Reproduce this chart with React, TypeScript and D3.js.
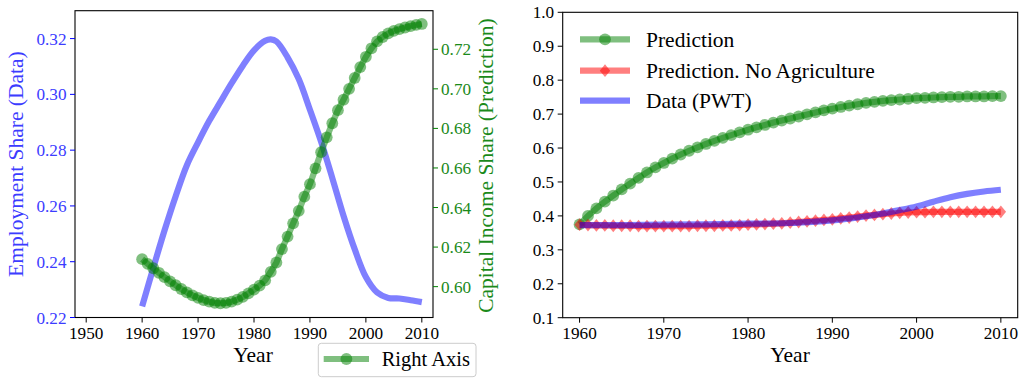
import React from 'react';
import * as d3 from 'd3';

// ---------- DATA ----------
const YEARS = [
  1960, 1961, 1962, 1963, 1964, 1965, 1966, 1967, 1968, 1969,
  1970, 1971, 1972, 1973, 1974, 1975, 1976, 1977, 1978, 1979,
  1980, 1981, 1982, 1983, 1984, 1985, 1986, 1987, 1988, 1989,
  1990, 1991, 1992, 1993, 1994, 1995, 1996, 1997, 1998, 1999,
  2000, 2001, 2002, 2003, 2004, 2005, 2006, 2007, 2008, 2009, 2010,
];

// Left panel, right axis: capital income share (prediction)
const CAPITAL_SHARE_PRED = [
  0.6139, 0.6115, 0.6093, 0.6070, 0.6048, 0.6027, 0.6007, 0.5988, 0.5971, 0.5956,
  0.5943, 0.5932, 0.5924, 0.5918, 0.5916, 0.5918, 0.5924, 0.5934, 0.5948, 0.5966,
  0.5985, 0.6005, 0.6032, 0.6075, 0.6122, 0.6190, 0.6253, 0.6320, 0.6383, 0.6455,
  0.6518, 0.6598, 0.6680, 0.6755, 0.6826, 0.6892, 0.6945, 0.7000, 0.7055, 0.7110,
  0.7162, 0.7205, 0.7240, 0.7262, 0.7280, 0.7293, 0.7302, 0.7310, 0.7317, 0.7323, 0.7328,
];

// Left panel, left axis: employment share (data)
const EMP_YEARS = [
  1960, 1962, 1964, 1966, 1968, 1970, 1972, 1974, 1976, 1978, 1980, 1982, 1983,
  1984, 1986, 1988, 1990, 1992, 1994, 1996, 1998, 2000, 2002, 2004, 2006, 2008, 2010,
];
const EMP_SHARE = [
  0.2240, 0.2378, 0.2512, 0.2635, 0.2746, 0.2828, 0.2905, 0.2973, 0.3040, 0.3103, 0.3158, 0.3192, 0.3197,
  0.3190, 0.3133, 0.3055, 0.2945, 0.2830, 0.2700, 0.2565, 0.2445, 0.2345, 0.2290, 0.2270, 0.2268, 0.2262, 0.2255,
];

// Right panel
const PREDICTION = [
  0.375, 0.400, 0.422, 0.442, 0.460, 0.478, 0.495, 0.512, 0.528, 0.543,
  0.556, 0.569, 0.581, 0.592, 0.602, 0.612, 0.621, 0.630, 0.638, 0.646,
  0.654, 0.661, 0.668, 0.675, 0.681, 0.687, 0.693, 0.699, 0.705, 0.711,
  0.716, 0.721, 0.725, 0.729, 0.733, 0.736, 0.739, 0.741, 0.743, 0.745,
  0.747, 0.748, 0.749, 0.750, 0.751, 0.751, 0.752, 0.752, 0.752, 0.753, 0.753,
];
const PREDICTION_NO_AG = [
  0.374, 0.373, 0.372, 0.372, 0.371, 0.371, 0.371, 0.370, 0.370, 0.370,
  0.370, 0.370, 0.370, 0.370, 0.371, 0.371, 0.371, 0.372, 0.372, 0.373,
  0.374, 0.375, 0.376, 0.377, 0.378, 0.380, 0.382, 0.384, 0.386, 0.388,
  0.390, 0.393, 0.395, 0.398, 0.401, 0.403, 0.405, 0.407, 0.409, 0.410,
  0.411, 0.411, 0.412, 0.412, 0.412, 0.412, 0.412, 0.412, 0.412, 0.412, 0.412,
];
const PWT_YEARS = [1960, 1965, 1970, 1975, 1980, 1985, 1988, 1990, 1992, 1994, 1996, 1998, 2000, 2002, 2004, 2006, 2008, 2010];
const PWT_DATA = [0.373, 0.373, 0.374, 0.375, 0.377, 0.379, 0.383, 0.387, 0.392, 0.399, 0.407, 0.417, 0.428, 0.442, 0.455, 0.465, 0.472, 0.477];

const LEFT_X_TICKS = [1950, 1960, 1970, 1980, 1990, 2000, 2010];
const LEFT_Y_TICKS = [0.22, 0.24, 0.26, 0.28, 0.30, 0.32];
const LEFT_Y2_TICKS = [0.60, 0.62, 0.64, 0.66, 0.68, 0.70, 0.72];
const RIGHT_X_TICKS = [1960, 1970, 1980, 1990, 2000, 2010];
const RIGHT_Y_TICKS = [0.1, 0.2, 0.3, 0.4, 0.5, 0.6, 0.7, 0.8, 0.9, 1.0];

// ---------- STYLE ----------
const FONT = '"Liberation Serif", "Times New Roman", serif';
const GREEN = '#008000';
const RED = '#ff0000';
const BLUE = '#0000ff';
const BLUE_TEXT = '#3c3cff';
const GREEN_TEXT = '#1a8a1a';
const TICK_FS = 17.2;
const LABEL_FS = 21.5;
const LEG_FS = 21.5;

const L = { x0: 75, x1: 433, y0: 10.7, y1: 317.5 };
const R = { x0: 562.7, x1: 1017.7, y0: 12.3, y1: 317.7 };

const diamond = (cx: number, cy: number) =>
  `M${cx},${cy - 6.4}L${cx + 5.2},${cy}L${cx},${cy + 6.4}L${cx - 5.2},${cy}Z`;

export default function App() {
  // left panel scales
  const lx = d3.scaleLinear().domain([1948, 2012]).range([L.x0, L.x1]);
  const ly = d3.scaleLinear().domain([0.22, 0.33]).range([L.y1, L.y0]);
  const ly2 = d3.scaleLinear().domain([0.5844, 0.7395]).range([L.y1, L.y0]);
  // right panel scales
  const rx = d3.scaleLinear().domain([1958, 2012]).range([R.x0, R.x1]);
  const ry = d3.scaleLinear().domain([0.1, 1.0]).range([R.y1, R.y0]);

  const empLine = d3
    .line<number>()
    .x((_, i) => lx(EMP_YEARS[i]))
    .y((d) => ly(d))
    .curve(d3.curveCatmullRom.alpha(0.5))(EMP_SHARE) as string;
  const capLine = d3
    .line<number>()
    .x((_, i) => lx(YEARS[i]))
    .y((d) => ly2(d))(CAPITAL_SHARE_PRED) as string;

  const predLine = d3
    .line<number>()
    .x((_, i) => rx(YEARS[i]))
    .y((d) => ry(d))(PREDICTION) as string;
  const noAgLine = d3
    .line<number>()
    .x((_, i) => rx(YEARS[i]))
    .y((d) => ry(d))(PREDICTION_NO_AG) as string;
  const pwtLine = d3
    .line<number>()
    .x((_, i) => rx(PWT_YEARS[i]))
    .y((d) => ry(d))
    .curve(d3.curveMonotoneX)(PWT_DATA) as string;

  const f2 = d3.format('.2f');
  const f1 = d3.format('.1f');

  return (
    <svg
      width={1021}
      height={378}
      style={{ position: 'fixed', left: 0, top: 0, background: '#fff' }}
      fontFamily={FONT}
    >
      <rect x={0} y={0} width={1021} height={378} fill="#fff" />

      <defs>
        <clipPath id="clipL">
          <rect x={L.x0} y={L.y0} width={L.x1 - L.x0} height={L.y1 - L.y0} />
        </clipPath>
        <clipPath id="clipR">
          <rect x={R.x0} y={R.y0} width={R.x1 - R.x0} height={R.y1 - R.y0} />
        </clipPath>
      </defs>

      {/* ================= LEFT PANEL ================= */}
      <g clipPath="url(#clipL)">
        <path d={empLine} fill="none" stroke={BLUE} strokeOpacity={0.5} strokeWidth={6.2} />
        <path d={capLine} fill="none" stroke={GREEN} strokeOpacity={0.5} strokeWidth={6.2} />
        {CAPITAL_SHARE_PRED.map((v, i) => (
          <circle key={i} cx={lx(YEARS[i])} cy={ly2(v)} r={5.9} fill={GREEN} fillOpacity={0.5} />
        ))}
      </g>
      <rect x={L.x0} y={L.y0} width={L.x1 - L.x0} height={L.y1 - L.y0} fill="none" stroke="#000" strokeWidth={1.1} />

      {LEFT_X_TICKS.map((t) => (
        <g key={t}>
          <line x1={lx(t)} x2={lx(t)} y1={L.y1} y2={L.y1 + 5} stroke="#000" strokeWidth={1} />
          <text x={lx(t)} y={L.y1 + 21.5} fontSize={TICK_FS} textAnchor="middle" fill="#000">
            {t}
          </text>
        </g>
      ))}
      {LEFT_Y_TICKS.map((t) => (
        <g key={t}>
          <line x1={L.x0 - 5} x2={L.x0} y1={ly(t)} y2={ly(t)} stroke={BLUE} strokeWidth={1} />
          <text x={L.x0 - 8.5} y={ly(t)} dy="0.35em" fontSize={TICK_FS} textAnchor="end" fill={BLUE_TEXT}>
            {f2(t)}
          </text>
        </g>
      ))}
      {LEFT_Y2_TICKS.map((t) => (
        <g key={t}>
          <line x1={L.x1} x2={L.x1 + 5} y1={ly2(t)} y2={ly2(t)} stroke={GREEN} strokeWidth={1} />
          <text x={L.x1 + 8} y={ly2(t)} dy="0.35em" fontSize={TICK_FS} textAnchor="start" fill={GREEN_TEXT}>
            {f2(t)}
          </text>
        </g>
      ))}
      <text
        transform={`translate(23,${(L.y0 + L.y1) / 2}) rotate(-90)`}
        fontSize={LABEL_FS}
        textAnchor="middle"
        fill={BLUE_TEXT}
      >
        Employment Share (Data)
      </text>
      <text
        transform={`translate(493,${(L.y0 + L.y1) / 2 + 1.5}) rotate(-90)`}
        fontSize={LABEL_FS}
        textAnchor="middle"
        fill={GREEN_TEXT}
      >
        Capital Income Share (Prediction)
      </text>
      <text x={253} y={361.5} fontSize={LABEL_FS} textAnchor="middle" fill="#000">
        Year
      </text>

      {/* left legend */}
      <rect x={318.3} y={343.3} width={157.7} height={33.4} rx={3} fill="#fff" fillOpacity={0.8} stroke="#cccccc" strokeWidth={1} />
      <line x1={323.7} x2={369} y1={359} y2={359} stroke={GREEN} strokeOpacity={0.5} strokeWidth={6.2} />
      <circle cx={346.4} cy={359} r={5.9} fill={GREEN} fillOpacity={0.5} />
      <text x={381.7} y={366} fontSize={20.5} fill="#000">
        Right Axis
      </text>

      {/* ================= RIGHT PANEL ================= */}
      <g clipPath="url(#clipR)">
        <path d={predLine} fill="none" stroke={GREEN} strokeOpacity={0.5} strokeWidth={6.2} />
        {PREDICTION.map((v, i) => (
          <circle key={i} cx={rx(YEARS[i])} cy={ry(v)} r={5.9} fill={GREEN} fillOpacity={0.5} />
        ))}
        <path d={noAgLine} fill="none" stroke={RED} strokeOpacity={0.5} strokeWidth={6.2} />
        {PREDICTION_NO_AG.map((v, i) => (
          <path key={i} d={diamond(rx(YEARS[i]), ry(v))} fill={RED} fillOpacity={0.5} />
        ))}
        <path d={pwtLine} fill="none" stroke={BLUE} strokeOpacity={0.5} strokeWidth={6.2} />
      </g>
      <rect x={R.x0} y={R.y0} width={R.x1 - R.x0} height={R.y1 - R.y0} fill="none" stroke="#000" strokeWidth={1.1} />

      {RIGHT_X_TICKS.map((t) => (
        <g key={t}>
          <line x1={rx(t)} x2={rx(t)} y1={R.y1} y2={R.y1 + 5} stroke="#000" strokeWidth={1} />
          <text x={rx(t)} y={R.y1 + 21.5} fontSize={TICK_FS} textAnchor="middle" fill="#000">
            {t}
          </text>
        </g>
      ))}
      {RIGHT_Y_TICKS.map((t) => (
        <g key={t}>
          <line x1={R.x0 - 5} x2={R.x0} y1={ry(t)} y2={ry(t)} stroke="#000" strokeWidth={1} />
          <text x={R.x0 - 8.5} y={ry(t)} dy="0.35em" fontSize={TICK_FS} textAnchor="end" fill="#000">
            {f1(t)}
          </text>
        </g>
      ))}
      <text x={790} y={361.5} fontSize={LABEL_FS} textAnchor="middle" fill="#000">
        Year
      </text>

      {/* right legend */}
      <line x1={580} x2={630} y1={39.3} y2={39.3} stroke={GREEN} strokeOpacity={0.5} strokeWidth={6.2} />
      <circle cx={605} cy={39.3} r={5.9} fill={GREEN} fillOpacity={0.5} />
      <text x={646} y={46.5} fontSize={LEG_FS} fill="#000">
        Prediction
      </text>
      <line x1={580} x2={630} y1={70.7} y2={70.7} stroke={RED} strokeOpacity={0.5} strokeWidth={6.2} />
      <path d={diamond(605, 70.7)} fill={RED} fillOpacity={0.5} />
      <text x={646} y={77.9} fontSize={LEG_FS} fill="#000">
        Prediction. No Agriculture
      </text>
      <line x1={580} x2={630} y1={100.7} y2={100.7} stroke={BLUE} strokeOpacity={0.5} strokeWidth={6.2} />
      <text x={646} y={107.9} fontSize={LEG_FS} fill="#000">
        Data (PWT)
      </text>
    </svg>
  );
}
